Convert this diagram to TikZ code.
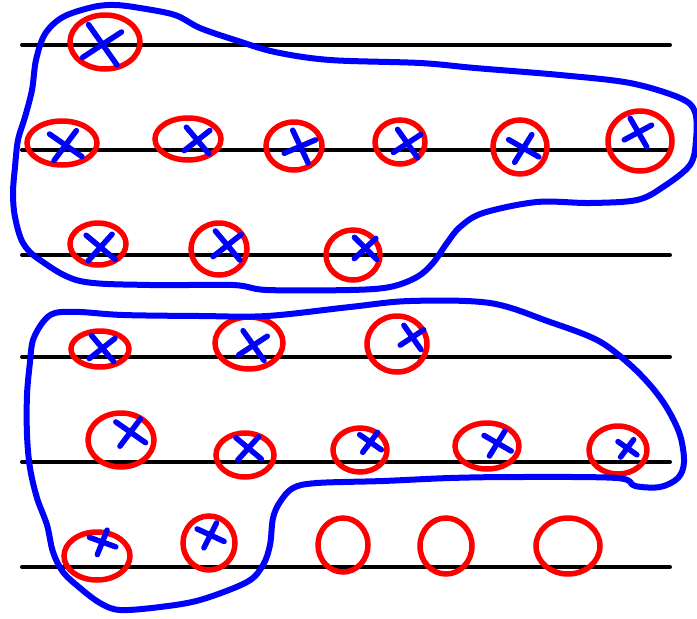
\documentclass[tikz,border=0pt]{standalone}
\usetikzlibrary{shapes.geometric}
\definecolor{penred}{RGB}{255,0,0}
\definecolor{penblue}{RGB}{0,0,255}
\tikzset{
  staff/.style={black,line width=4pt,line cap=round},
  ring/.style={ellipse,draw=penred,line width=5.5pt,inner sep=0pt},
  tick/.style={penblue,line width=5.5pt,line cap=round},
  lasso/.style={penblue,line width=6pt,line join=round}
}

\begin{document}
\begin{tikzpicture}[x=1pt,y=-1pt]
  \useasboundingbox (0,0) rectangle (697,619);
  % the six lines
  \foreach \y in {45,150,255,357,462,567}
    \draw[staff] (22,\y) -- (670,\y);
  % red rings
  \foreach \n/\x/\y/\w/\h in {a1/105/42/70/54,
      b1/62/143/70/44, b2/188/139/66/42, b3/294/146/56/48, b4/400/142/50/44, b5/520/147/54/54, b6/640/141/64/60,
      c1/98/244/56/42, c2/219/249/56/52, c3/353/255/54/50,
      d1/100/349/58/36, d2/249/343/68/52, d3/397/344/60/56,
      e1/121/440/66/54, e2/245/455/58/44, e3/360/450/54/44, e4/487/446/64/46, e5/618/450/58/48,
      f1/97/556/66/48, f2/209/543/52/54, f3/343/545/50/54, f4/446/546/52/56, f5/568/546/64/56}
    \node[ring,minimum width=\w,minimum height=\h] (\n) at (\x,\y) {};
  % blue crosses
  \foreach \n/\dx/\dy/\s/\r in {a1/-3/2/1.5/0,
      b1/3/2/1.2/20, b2/9/1/1.05/5, b3/6/0/1.1/-10, b4/7/1/1.05/0, b5/3/1/1.05/25, b6/-2/-9/1/-5,
      c1/2/3/1.15/15, c2/8/-4/1.15/5, c3/12/-7/0.95/10,
      d1/2/-1/1.05/5, d2/4/2/1.1/0, d3/15/-7/0.9/0,
      e1/9/-8/1.1/20, e2/3/-7/1/15, e3/10/-8/0.8/20, e4/10/-3/0.95/25, e5/9/-2/0.7/20,
      f1/5/-14/0.85/35, f2/1/-8/0.9/30}
    \draw[tick,shift={(\n)},shift={(\dx,\dy)},scale=\s,rotate=\r]
      (-9,-13) -- (10,14) (-13,9) -- (13,-8);
  % upper group
  \draw[lasso] plot[smooth cycle,tension=0.55] coordinates {
    (45,34) (63,17) (93,7) (115,5) (140,8) (175,15) (200,28) (235,40) (275,52)
    (330,60) (420,63) (475,68) (560,75) (630,83) (680,98) (695,112) (696,140)
    (690,165) (663,187) (637,200) (590,203) (537,202) (483,213) (460,227)
    (447,243) (433,263) (417,277) (390,287) (350,290) (267,290) (233,285)
    (150,285) (80,281) (40,260) (23,243) (15,217) (13,193) (15,167) (18,140)
    (25,117) (32,90) (36,60)};
  % lower group
  \draw[lasso] plot[smooth cycle,tension=0.55] coordinates {
    (33,340) (43,322) (55,313) (80,312) (123,315) (200,316) (267,316) (350,307)
    (410,301) (490,303) (550,322) (597,340) (627,362) (650,385) (667,408)
    (680,435) (684,462) (678,478) (660,487) (635,486) (617,478) (517,477)
    (450,478) (383,481) (317,483) (293,488) (280,502) (273,518) (270,545)
    (263,565) (247,582) (200,600) (160,607) (120,610) (100,603) (80,588)
    (63,572) (53,552) (47,525) (37,498) (30,468) (27,435) (27,395) (30,362)};
\end{tikzpicture}
\end{document}
